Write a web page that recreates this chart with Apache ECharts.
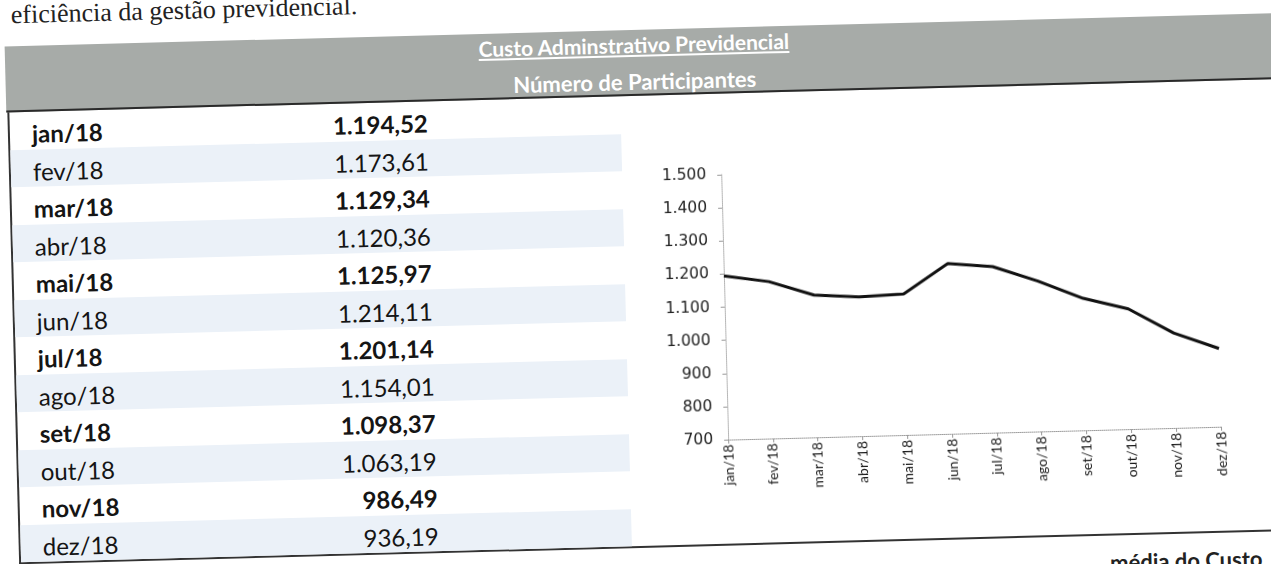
<!DOCTYPE html>
<html lang="pt-BR">
<head>
  <meta charset="UTF-8">
  <title>Custo Adminstrativo Previdencial</title>
  <style>
    body {
      margin: 0;
      background: #fff;
      overflow: hidden;
    }

    .page {
      position: absolute;
      left: 0;
      top: 0;
      width: 1271px;
      height: 564px;
      transform: rotate(-1.5deg);
      transform-origin: 635px 282px;
    }

    .intro {
      position: absolute;
      left: 18px;
      top: -14px;
      font: 26px/26px "Liberation Serif", serif;
      color: #222;
      white-space: nowrap;
    }

    .band {
      position: absolute;
      left: 11px;
      top: 30px;
      width: 1320px;
      height: 64px;
      background: #a7aba8;
      border-bottom: 2px solid #2a2a2a;
      color: #fff;
      font-family: Lato, sans-serif;
      font-weight: 700;
      font-size: 21px;
      line-height: 24px;
    }

    .band div {
      position: absolute;
      left: 0;
      width: 1258px;
      text-align: center;
    }

    .band .t1 {
      top: 3px;
      text-decoration: underline;
    }

    .band .t2 {
      top: 40px;
      font-size: 22px;
    }

    .tbl {
      position: absolute;
      left: 12px;
      top: 96px;
      width: 1320px;
      height: 450px;
      border-left: 2px solid #333;
      border-bottom: 2px solid #333;
    }

    .row {
      position: absolute;
      left: 0;
      width: 611px;
      height: 37.5px;
      font-family: Lato, sans-serif;
      font-size: 24px;
      color: #151515;
    }

    .row.stripe {
      background: #ebf1f8;
    }

    .row.bold {
      font-weight: 700;
    }

    .row span {
      position: absolute;
      top: 7px;
      line-height: 30px;
    }

    .row .lbl {
      left: 22px;
    }

    .row .val {
      left: 218px;
      width: 200px;
      text-align: right;
    }

    .tail {
      position: absolute;
      right: 16px;
      top: 561px;
      font: 700 22px Lato, sans-serif;
      color: #222;
    }

    #chart {
      position: absolute;
      left: 0;
      top: 0;
      width: 1271px;
      height: 564px;
    }
  </style>
</head>

<body>
  <div class="page">
    <div class="intro">eficiência da gestão previdencial.</div>
    <div class="band">
      <div class="t1">Custo Adminstrativo Previdencial</div>
      <div class="t2">Número de Participantes</div>
    </div>
    <div class="tbl" id="tbl"></div>
    <div class="tail">média do Custo</div>
    <div id="chart"></div>
  </div>

  <script src="https://cdn.jsdelivr.net/npm/echarts@6/dist/echarts.min.js"></script>
  <script>
    const months = ['jan/18', 'fev/18', 'mar/18', 'abr/18', 'mai/18', 'jun/18',
      'jul/18', 'ago/18', 'set/18', 'out/18', 'nov/18', 'dez/18'];
    const custo = [1194.52, 1173.61, 1129.34, 1120.36, 1125.97, 1214.11,
      1201.14, 1154.01, 1098.37, 1063.19, 986.49, 936.19];
    const yMin = 700;
    const yMax = 1500;
    const yStep = 100;

    // 1234.5 -> "1.234,50"
    const fmtBR = (v, dec) => {
      const parts = v.toFixed(dec).split('.');
      const int = parts[0].replace(/\B(?=(\d{3})+(?!\d))/g, '.');
      return parts[1] ? int + ',' + parts[1] : int;
    };

    // table on the left
    const tbl = document.getElementById('tbl');
    months.forEach((m, i) => {
      const row = document.createElement('div');
      row.className = 'row ' + (i % 2 ? 'stripe' : 'bold');
      row.style.top = (i * 37.5) + 'px';
      row.innerHTML = '<span class="lbl">' + m + '</span><span class="val">' + fmtBR(custo[i], 2) + '</span>';
      tbl.appendChild(row);
    });

    // line chart on the right
    const chart = echarts.init(document.getElementById('chart'));
    chart.setOption({
      animation: false,
      grid: {
        left: 724,
        right: 54,
        top: 177,
        bottom: 122,
        containLabel: false,
        outerBoundsMode: 'none'
      },
      xAxis: {
        type: 'category',
        data: months,
        boundaryGap: false,
        axisLine: { lineStyle: { color: '#999', type: 'dotted', width: 1 } },
        axisTick: { show: true, length: 4, lineStyle: { color: '#999' } },
        axisLabel: {
          rotate: 90,
          margin: 5,
          color: '#1a1a1a',
          fontFamily: 'Lato',
          fontSize: 14
        },
        splitLine: { show: false }
      },
      yAxis: {
        type: 'value',
        min: yMin,
        max: yMax,
        interval: yStep,
        axisLine: { show: true, lineStyle: { color: '#aaa', type: 'dotted', width: 1 } },
        axisTick: { show: true, length: 4, lineStyle: { color: '#999' } },
        axisLabel: {
          margin: 15,
          color: '#222',
          fontFamily: 'DejaVu Sans',
          fontSize: 15.5,
          formatter: v => fmtBR(v, 0)
        },
        splitLine: { show: false }
      },
      series: [{
        type: 'line',
        data: custo,
        showSymbol: false,
        lineStyle: { color: '#111', width: 3 },
        itemStyle: { color: '#111' }
      }]
    });
  </script>
</body>

</html>
